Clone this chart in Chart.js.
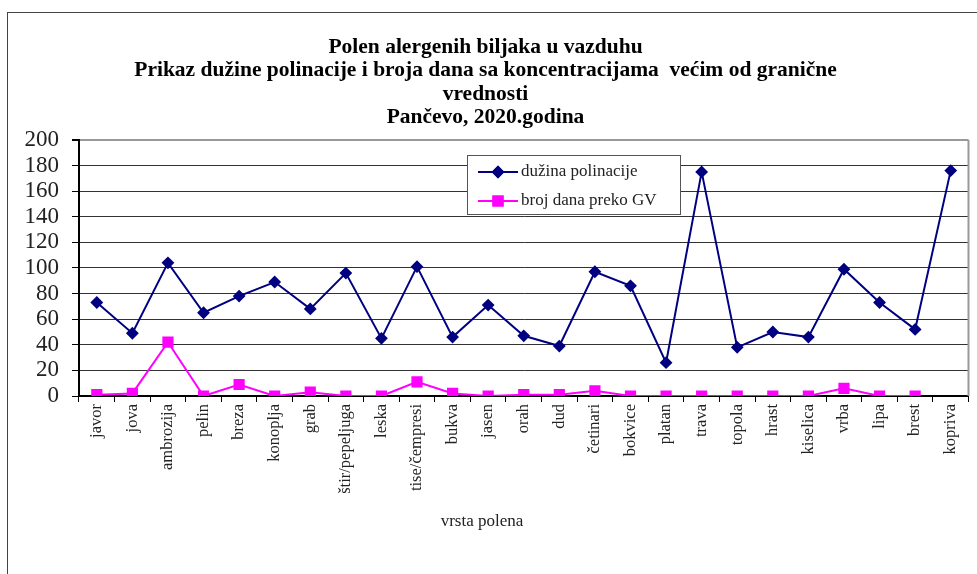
<!DOCTYPE html>
<html lang="sr">
<head>
<meta charset="UTF-8">
<title>Polen alergenih biljaka u vazduhu - Pančevo 2020</title>
<script src="https://cdn.jsdelivr.net/npm/chart.js"></script>
<style>
  html, body { margin: 0; padding: 0; background: #fff; overflow: hidden; }
  #wrap { position: relative; width: 977px; height: 574px; }
  #frame { position: absolute; left: 7px; top: 12px; width: 1000px; height: 600px; border: 1px solid #444; box-sizing: border-box; }
  canvas { position: absolute; left: 0; top: 0; }
</style>
</head>
<body>
<div id="wrap">
  <div id="frame"></div>
  <canvas id="polenChart" width="977" height="574"></canvas>
</div>
<script>
// vrste polena (kategorije na x osi)
const categories = ['javor', 'jova', 'ambrozija', 'pelin', 'breza', 'konoplja', 'grab', 'štir/pepeljuga',
  'leska', 'tise/čempresi', 'bukva', 'jasen', 'orah', 'dud', 'četinari', 'bokvice', 'platan', 'trava',
  'topola', 'hrast', 'kiselica', 'vrba', 'lipa', 'brest', 'kopriva'];

// dužina polinacije (dana)
const duzinaPolinacije = [73, 49, 104, 65, 78, 89, 68, 96, 45, 101, 46, 71, 47, 39, 97, 86, 26, 175,
  38, 50, 46, 99, 73, 52, 176];

// broj dana preko granične vrednosti
const brojDanaPrekoGV = [1, 2, 42, 0, 9, 0, 3, 0, 0, 11, 2, 0, 1, 1, 4, 0, 0, 0, 0, 0, 0, 6, 0, 0, null];

const seriesLabels = ['dužina polinacije', 'broj dana preko GV'];
const yTicks = [0, 20, 40, 60, 80, 100, 120, 140, 160, 180, 200];

const titleLines = ['Polen alergenih biljaka u vazduhu',
  'Prikaz dužine polinacije i broja dana sa koncentracijama  većim od granične',
  'vrednosti',
  'Pančevo, 2020.godina'];
const xTitle = 'vrsta polena';

const serif = "'Liberation Serif', 'Times New Roman', serif";

// okvir oblasti grafika, legenda i naziv x ose
const extrasPlugin = {
  id: 'extras',
  afterDraw(chart) {
    const { ctx, chartArea: a } = chart;
    ctx.save();
    // sivi okvir desno
    ctx.strokeStyle = '#999';
    ctx.lineWidth = 2;
    ctx.beginPath();
    ctx.moveTo(a.right, a.top);
    ctx.lineTo(a.right, a.bottom);
    ctx.stroke();

    // naziv x ose
    ctx.fillStyle = '#222';
    ctx.font = '17px ' + serif;
    ctx.textAlign = 'center';
    ctx.textBaseline = 'middle';
    ctx.fillText(xTitle, 482, 522);

    // legenda
    const lx = 467, ly = 155, lw = 213, lh = 59;
    ctx.fillStyle = '#fff';
    ctx.fillRect(lx, ly, lw, lh);
    ctx.strokeStyle = '#555';
    ctx.lineWidth = 1;
    ctx.strokeRect(lx + 0.5, ly + 0.5, lw, lh);
    ctx.font = '17px ' + serif;
    ctx.textAlign = 'left';
    chart.data.datasets.forEach((ds, i) => {
      const y = ly + 17 + i * 29;
      ctx.strokeStyle = ds.borderColor;
      ctx.lineWidth = 2;
      ctx.beginPath();
      ctx.moveTo(lx + 11, y);
      ctx.lineTo(lx + 51, y);
      ctx.stroke();
      Chart.helpers.drawPoint(ctx, {
        pointStyle: ds.pointStyle, radius: ds.pointRadius, borderWidth: 1, rotation: 0
      }, lx + 31, y);
      ctx.fillStyle = ds.pointBackgroundColor;
      ctx.strokeStyle = ds.pointBorderColor;
      ctx.fill();
      ctx.stroke();
      ctx.fillStyle = '#222';
      ctx.fillText(ds.label, lx + 54, y);
    });
    ctx.restore();
  }
};

new Chart(document.getElementById('polenChart'), {
  type: 'line',
  data: {
    labels: categories,
    datasets: [{
      label: seriesLabels[0],
      data: duzinaPolinacije,
      borderColor: '#000080',
      backgroundColor: '#000080',
      pointBackgroundColor: '#000080',
      pointBorderColor: '#000080',
      borderWidth: 2,
      pointStyle: 'rectRot',
      pointRadius: 5,
      tension: 0
    }, {
      label: seriesLabels[1],
      data: brojDanaPrekoGV,
      borderColor: '#ff00ff',
      backgroundColor: '#ff00ff',
      pointBackgroundColor: '#ff00ff',
      pointBorderColor: '#ff00ff',
      borderWidth: 2,
      pointStyle: 'rect',
      pointRadius: 6.5,
      tension: 0,
      spanGaps: false
    }]
  },
  options: {
    responsive: false,
    animation: false,
    devicePixelRatio: 1,
    layout: { padding: { left: 0, right: 6, top: 0, bottom: 0 } },
    plugins: {
      legend: { display: false },
      tooltip: { enabled: false },
      title: {
        display: true,
        text: titleLines,
        color: '#000',
        font: { family: serif, size: 21.5, weight: 'bold', lineHeight: 1.08 },
        padding: { top: 36, bottom: 11 }
      }
    },
    scales: {
      x: {
        offset: true,
        grid: {
          offset: true,
          drawOnChartArea: false,
          drawTicks: true,
          tickLength: 6,
          color: '#000',
          tickColor: '#000'
        },
        border: { display: true, color: '#000', width: 2 },
        ticks: {
          autoSkip: false,
          minRotation: 90,
          maxRotation: 90,
          padding: 2,
          color: '#222',
          font: { family: serif, size: 16.5 }
        },
        afterFit(scale) { scale.height = 178; }
      },
      y: {
        min: 0,
        max: 200,
        afterBuildTicks(scale) { scale.ticks = yTicks.map(v => ({ value: v })); },
        grid: {
          color: ctx => (ctx.tick && ctx.tick.value === 200 ? '#999' : '#333'),
          lineWidth: ctx => (ctx.tick && ctx.tick.value === 200 ? 2 : 1),
          tickColor: '#000',
          tickLength: 7
        },
        border: { display: true, color: '#000', width: 2 },
        ticks: {
          autoSkip: false,
          padding: 13,
          color: '#222',
          font: { family: serif, size: 23 }
        },
        afterFit(scale) { scale.width = 79; }
      }
    }
  },
  plugins: [extrasPlugin]
});
</script>
</body>
</html>
